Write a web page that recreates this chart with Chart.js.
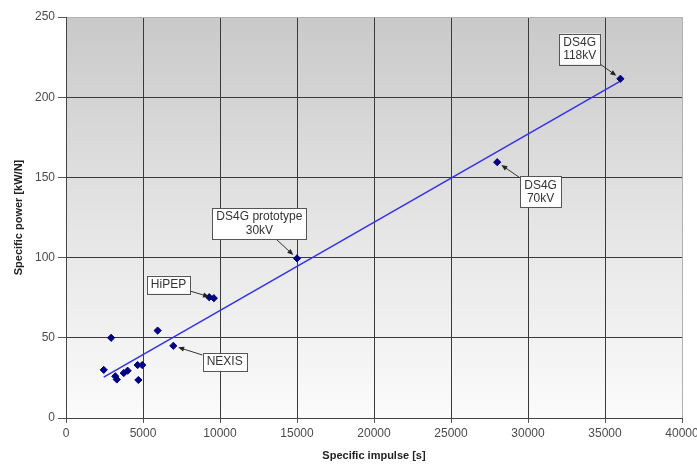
<!DOCTYPE html>
<html><head><meta charset="utf-8">
<script src="https://cdn.jsdelivr.net/npm/chart.js@4"></script>
<style>html,body{margin:0;padding:0;background:#fff}#wrap{width:697px;height:464px}</style>
</head><body><div id="wrap"><canvas id="c" width="697" height="464"></canvas></div>
<script>
// ---- data ----
const impulse = [2450, 2930, 3200, 3300, 3750, 4000, 4650, 4700, 4950, 5950, 6970, 9300, 9600, 15000, 28000, 36000];
const power   = [30,   50,   26,   24,   28,   29.5, 33,   23.7, 33,   54.5, 45,   75.3, 74.7, 99.5, 159.5, 211.5];
const trendImpulse = [2450, 36000];
const trendPower   = [25.5, 210];
const xTicks = [0, 5000, 10000, 15000, 20000, 25000, 30000, 35000, 40000];
const yTicks = [0, 50, 100, 150, 200, 250];
const calloutText   = [['DS4G', '118kV'], ['DS4G', '70kV'], ['DS4G prototype', '30kV'], ['HiPEP'], ['NEXIS']];
const calloutTarget = [15, 14, 13, 12, 10];
const calloutAtX    = [33357, 30818, 12558, 6656, 10305];
const calloutAtY    = [230, 140.9, 121.1, 83.2, 34.9];

const FONT = '"Liberation Sans", Arial, sans-serif';

const bgPlugin = {
  id: 'bg',
  beforeDraw(chart) {
    const {ctx, chartArea: a} = chart;
    const g = ctx.createLinearGradient(0, a.top, 0, a.bottom);
    g.addColorStop(0, '#c9c9c9');
    g.addColorStop(0.5, '#e4e4e4');
    g.addColorStop(1, '#fbfbfb');
    ctx.save();
    ctx.fillStyle = g;
    ctx.fillRect(a.left, a.top, a.right - a.left, a.bottom - a.top);
    ctx.restore();
  }
};

const calloutPlugin = {
  id: 'callouts',
  afterDatasetsDraw(chart) {
    const {ctx, scales: {x, y}} = chart;
    ctx.save();
    ctx.font = '12px ' + FONT;
    calloutText.forEach((lines, k) => {
      const cx = x.getPixelForValue(calloutAtX[k]), cy = y.getPixelForValue(calloutAtY[k]);
      const tx = x.getPixelForValue(impulse[calloutTarget[k]]), ty = y.getPixelForValue(power[calloutTarget[k]]);
      const lh = 13.5;
      const w = Math.max(...lines.map(t => ctx.measureText(t).width)) + 8;
      const h = lines.length * lh + 4;
      const bx = cx - w / 2, by = cy - h / 2;
      const dx = tx - cx, dy = ty - cy;
      const s = Math.min((w / 2) / Math.abs(dx || 1e-9), (h / 2) / Math.abs(dy || 1e-9));
      const sx = cx + dx * s, sy = cy + dy * s;
      const len = Math.hypot(tx - sx, ty - sy);
      const ux = (tx - sx) / len, uy = (ty - sy) / len;
      const ex = tx - ux * 5, ey = ty - uy * 5;
      ctx.strokeStyle = '#333'; ctx.lineWidth = 1;
      ctx.beginPath(); ctx.moveTo(sx, sy); ctx.lineTo(ex - ux * 4, ey - uy * 4); ctx.stroke();
      ctx.fillStyle = '#222';
      ctx.beginPath();
      ctx.moveTo(ex, ey);
      ctx.lineTo(ex - ux * 6 - uy * 2.5, ey - uy * 6 + ux * 2.5);
      ctx.lineTo(ex - ux * 6 + uy * 2.5, ey - uy * 6 - ux * 2.5);
      ctx.closePath(); ctx.fill();
      ctx.fillStyle = '#fff';
      ctx.fillRect(bx, by, w, h);
      ctx.strokeStyle = '#555';
      ctx.strokeRect(Math.round(bx) + 0.5, Math.round(by) + 0.5, Math.round(w), Math.round(h));
      ctx.fillStyle = '#333'; ctx.textAlign = 'center'; ctx.textBaseline = 'middle';
      lines.forEach((t, i) => ctx.fillText(t, cx, by + 2 + lh * (i + 0.5)));
    });
    ctx.restore();
  }
};

const gridColor = (edgeVal) => (c) => (c.tick && c.tick.value === edgeVal) ? '#b0b0b0' : '#3a3a3a';

new Chart(document.getElementById('c'), {
  type: 'scatter',
  data: {
    datasets: [
      {
        label: 'Thrusters',
        data: impulse.map((v, i) => ({x: v, y: power[i]})),
        backgroundColor: '#000080',
        borderColor: '#000080',
        pointStyle: 'rectRot',
        pointRadius: 3.6,
        pointHoverRadius: 3.6,
        order: 1
      },
      {
        type: 'line',
        label: 'Trend',
        data: trendImpulse.map((v, i) => ({x: v, y: trendPower[i]})),
        borderColor: '#3434e6',
        borderWidth: 1.6,
        pointRadius: 0,
        fill: false,
        order: 2
      }
    ]
  },
  options: {
    responsive: false,
    animation: false,
    layout: {padding: {top: 17, right: 15, left: 0, bottom: 0}},
    plugins: {legend: {display: false}, tooltip: {enabled: false}},
    scales: {
      x: {
        type: 'linear', min: 0, max: 40000,
        afterBuildTicks: (s) => { s.ticks = xTicks.map(v => ({value: v})); },
        afterFit: (s) => { s.height = 46; s.paddingLeft = 0; s.paddingRight = 0; },
        ticks: {callback: (v) => String(v), color: '#4a4a4a', font: {size: 12, family: FONT}, padding: 3, maxRotation: 0, autoSkip: false},
        grid: {color: gridColor(40000), tickLength: 5, tickColor: '#555', lineWidth: 1},
        border: {color: '#444', width: 1},
        title: {display: true, text: 'Specific impulse [s]', color: '#222', font: {size: 11, weight: 'bold', family: FONT}, padding: {top: 0, bottom: 1}}
      },
      y: {
        type: 'linear', min: 0, max: 250,
        afterBuildTicks: (s) => { s.ticks = yTicks.map(v => ({value: v})); },
        afterFit: (s) => { s.width = 66; s.paddingTop = 0; s.paddingBottom = 0; },
        ticks: {color: '#4a4a4a', font: {size: 12, family: FONT}, padding: 3, autoSkip: false},
        grid: {color: gridColor(250), tickLength: 8, tickColor: '#555', lineWidth: 1},
        border: {color: '#444', width: 1},
        title: {display: true, text: 'Specific power [kW/N]', color: '#222', font: {size: 11, weight: 'bold', family: FONT}, padding: {top: 12, bottom: 0}}
      }
    }
  },
  plugins: [bgPlugin, calloutPlugin]
});
</script>
</body></html>
